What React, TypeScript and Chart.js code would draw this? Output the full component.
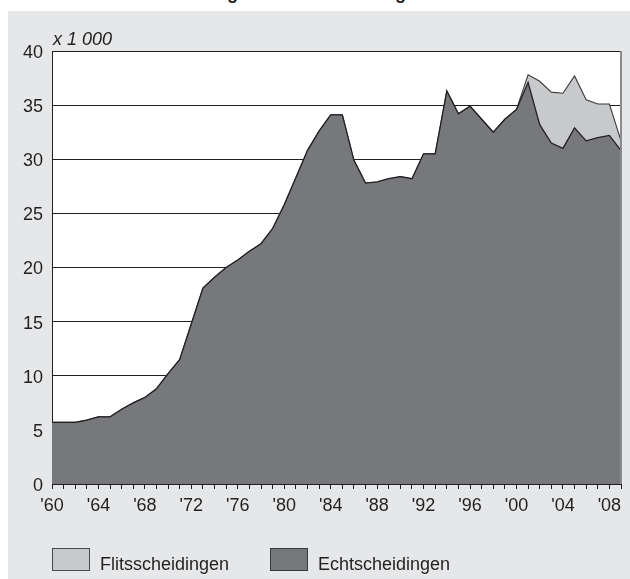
import React, { useEffect, useRef } from 'react';
import { Chart, registerables } from 'chart.js';

Chart.register(...registerables);

const YEARS = [
  1960, 1961, 1962, 1963, 1964, 1965, 1966, 1967, 1968, 1969,
  1970, 1971, 1972, 1973, 1974, 1975, 1976, 1977, 1978, 1979,
  1980, 1981, 1982, 1983, 1984, 1985, 1986, 1987, 1988, 1989,
  1990, 1991, 1992, 1993, 1994, 1995, 1996, 1997, 1998, 1999,
  2000, 2001, 2002, 2003, 2004, 2005, 2006, 2007, 2008, 2009,
];

// Echtscheidingen (x 1 000)
const ECHT = [
  5.7, 5.7, 5.7, 5.9, 6.2, 6.2, 6.9, 7.5, 8.0, 8.8,
  10.2, 11.5, 14.8, 18.1, 19.1, 20.0, 20.7, 21.5, 22.2, 23.6,
  25.8, 28.3, 30.8, 32.6, 34.1, 34.1, 29.9, 27.8, 27.9, 28.2,
  28.4, 28.2, 30.5, 30.5, 36.3, 34.2, 34.9, 33.7, 32.5, 33.7,
  34.6, 37.1, 33.2, 31.5, 31.0, 32.9, 31.7, 32.0, 32.2, 30.8,
];

// Flitsscheidingen (x 1 000), stacked on top
const FLITS = [
  0, 0, 0, 0, 0, 0, 0, 0, 0, 0,
  0, 0, 0, 0, 0, 0, 0, 0, 0, 0,
  0, 0, 0, 0, 0, 0, 0, 0, 0, 0,
  0, 0, 0, 0, 0, 0, 0, 0, 0, 0,
  0, 0.7, 4.0, 4.7, 5.1, 4.8, 3.8, 3.1, 2.9, 0.9,
];

const X_LABEL_YEARS = [1960, 1964, 1968, 1972, 1976, 1980, 1984, 1988, 1992, 1996, 2000, 2004, 2008];

const TITLE = 'Aantal echtscheidingen en flitsscheidingen';
const UNIT = 'x 1 000';
const LEGEND = ['Flitsscheidingen', 'Echtscheidingen'];

const FONT = '"Liberation Sans", Arial, Helvetica, sans-serif';
const INK = '#231f20';
const DARK = '#77787c';
const LIGHT = '#c8c9cb';
const PANEL = '#e6e7e8';

const framePlugin = {
  id: 'frame',
  beforeDraw(chart: any) {
    const { ctx, chartArea: a } = chart;
    ctx.save();
    ctx.fillStyle = '#ffffff';
    ctx.fillRect(a.left, a.top, a.right - a.left, a.bottom - a.top);
    ctx.restore();
  },
  afterDatasetsDraw(chart: any) {
    const { ctx, chartArea: a } = chart;
    ctx.save();
    ctx.strokeStyle = '#8a8b8e';
    ctx.lineWidth = 2;
    ctx.beginPath();
    ctx.moveTo(a.right, a.top);
    ctx.lineTo(a.right, a.bottom);
    ctx.stroke();
    ctx.restore();
  },
};

function AreaChart() {
  const ref = useRef<HTMLCanvasElement | null>(null);
  useEffect(() => {
    if (!ref.current) return;
    const chart = new Chart(ref.current, {
      type: 'line',
      data: {
        datasets: [
          {
            label: LEGEND[1],
            data: YEARS.map((yr, i) => ({ x: yr, y: ECHT[i] })),
            fill: 'origin',
            backgroundColor: DARK,
            borderColor: INK,
            borderWidth: 1.3,
            pointRadius: 0,
            tension: 0,
          },
          {
            label: LEGEND[0],
            data: YEARS.map((yr, i) => ({ x: yr, y: FLITS[i] })),
            fill: '-1',
            backgroundColor: LIGHT,
            borderColor: '#3a3a3c',
            borderWidth: 1.1,
            pointRadius: 0,
            tension: 0,
          },
        ],
      },
      options: {
        animation: false,
        responsive: false,
        maintainAspectRatio: false,
        layout: { padding: { top: 40, right: 9, left: 0, bottom: 0 } },
        plugins: { legend: { display: false }, tooltip: { enabled: false } },
        scales: {
          x: {
            type: 'linear',
            min: 1960,
            max: 2009,
            offset: false,
            grid: { drawOnChartArea: false, drawTicks: true, tickLength: 5, color: INK, lineWidth: 1 },
            border: { display: true, color: INK, width: 1 },
            ticks: {
              stepSize: 1,
              autoSkip: false,
              maxRotation: 0,
              minRotation: 0,
              padding: 6,
              color: INK,
              font: { family: FONT, size: 18 },
              callback: (v: any) => (X_LABEL_YEARS.includes(Number(v)) ? "'" + String(v).slice(2) : ''),
            },
            afterFit: (s: any) => { s.height = 95; },
          },
          y: {
            stacked: true,
            min: 0,
            max: 40,
            grid: { color: INK, lineWidth: 1, drawTicks: false },
            border: { display: true, color: INK, width: 1 },
            ticks: {
              stepSize: 5,
              padding: 9,
              labelOffset: 2,
              color: INK,
              font: { family: FONT, size: 18 },
            },
            afterFit: (s: any) => { s.width = 44; },
          },
        },
      },
      plugins: [framePlugin],
    } as any);
    return () => chart.destroy();
  }, []);
  return <canvas ref={ref} width={622} height={568} style={{ display: 'block', width: 622, height: 568 }} />;
}

export default function App() {
  const text: React.CSSProperties = { position: 'absolute', fontFamily: FONT, fontSize: 18, lineHeight: '18px', color: INK, whiteSpace: 'nowrap' };
  return (
    <div style={{ position: 'fixed', left: 0, top: 0, width: 630, height: 579, overflow: 'hidden', background: '#ffffff' }}>
      <div style={{ ...text, left: 57, top: -16, fontWeight: 'bold' }}>{TITLE}</div>
      <div style={{ position: 'absolute', left: 8, top: 11, width: 622, height: 568, background: PANEL }}>
        <AreaChart />
      </div>
      <div style={{ ...text, left: 53, top: 30, fontStyle: 'italic' }}>{UNIT}</div>
      <div style={{ position: 'absolute', left: 52, top: 548, width: 38, height: 23, boxSizing: 'border-box', background: LIGHT, border: '1px solid #4a4a4c' }} />
      <div style={{ ...text, left: 100, top: 555 }}>{LEGEND[0]}</div>
      <div style={{ position: 'absolute', left: 270, top: 548, width: 38, height: 23, boxSizing: 'border-box', background: DARK, border: '1px solid #3a3a3c' }} />
      <div style={{ ...text, left: 318, top: 555 }}>{LEGEND[1]}</div>
    </div>
  );
}
